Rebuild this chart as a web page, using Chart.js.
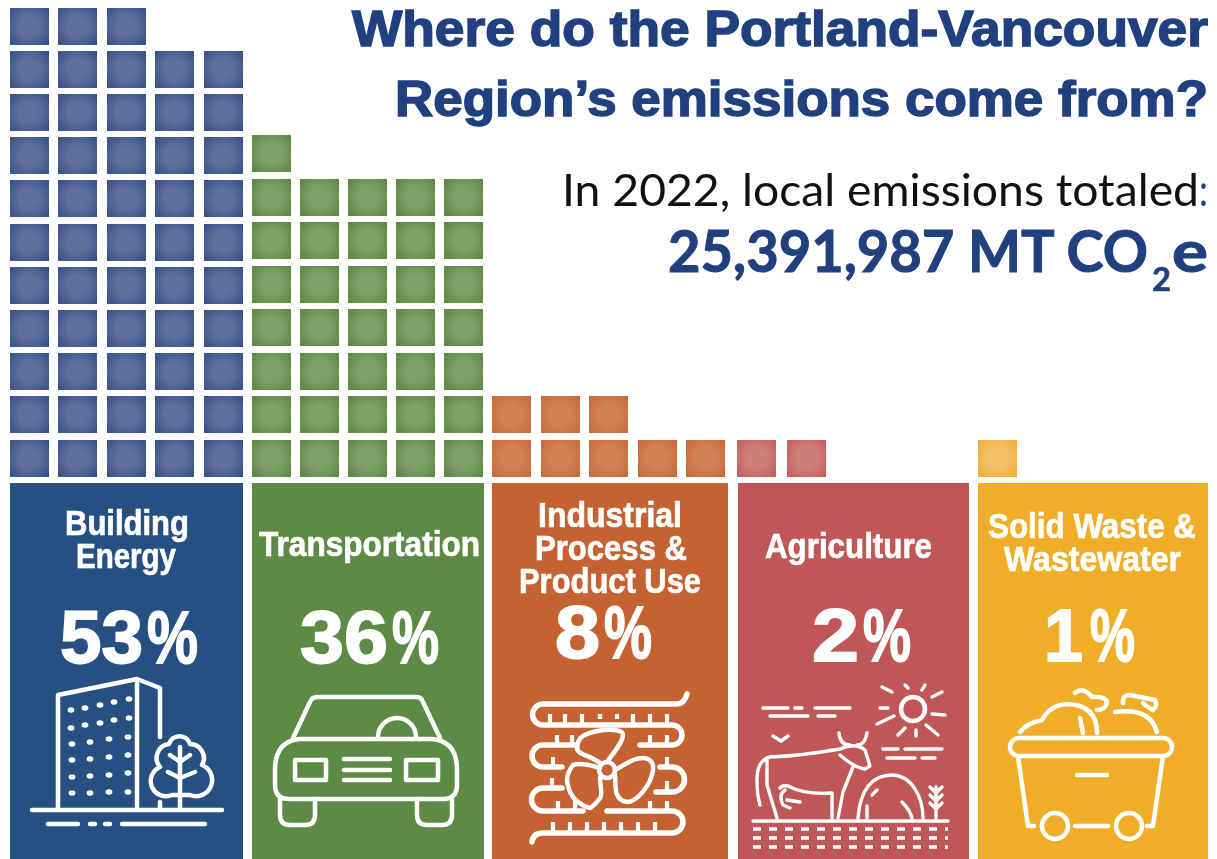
<!DOCTYPE html>
<html>
<head>
<meta charset="utf-8">
<title>Portland-Vancouver emissions</title>
<script src="https://cdn.jsdelivr.net/npm/chart.js"></script>
<style>
    html, body { margin: 0; padding: 0; background: #fff; }
    #wrap { position: relative; width: 1217px; height: 859px; overflow: hidden; }
    #grafico { position: absolute; left: 0; top: 0; }
    #camada { position: absolute; left: 0; top: 0; }
    .icon { fill: none; stroke: #fff; stroke-width: 4.5; stroke-linecap: round; stroke-linejoin: round; }
    .icon .thin { stroke-width: 3.4; }
    .icon .coil { stroke-width: 5.5; }
    .icon .tooth { stroke-width: 4.2; stroke-linecap: butt; }
    .icon .dot { fill: #fff; stroke: none; }
</style>
</head>
<body>
<div id="wrap">
    <canvas id="grafico" width="1217" height="859"></canvas>
    <svg id="camada" width="1217" height="859" xmlns="http://www.w3.org/2000/svg"></svg>
</div>
<script>
    // Data
    var sectors = ['Building Energy', 'Transportation', 'Industrial Process & Product Use', 'Agriculture', 'Solid Waste & Wastewater'];
    var percents = [53, 36, 8, 2, 1];
    var buildingColumns = [11, 11, 11, 10, 10];
    var transportColumns = [8, 7, 7, 7, 7];
    var industrialColumns = [2, 2, 2, 1, 1];
    var agricultureColumns = [1, 1];
    var wasteColumns = [1];
    // first grid column of each sector and the step between its columns
    var firstColumns = [0, 5, 9.95, 15, 19.97];
    var columnSteps = [1, 0.99, 1, 1.03, 1];

    var title = ['Where do the Portland-Vancouver', 'Region\u2019s emissions come from?'];
    var subtitle = 'In 2022, local emissions totaled';
    var total = '25,391,987 MT CO';

    // Styles
    var panelColors = ['#265082', '#5d8a45', '#c46231', '#c05757', '#f0ae28'];
    var squareEdge = ['#38528a', '#5c8a45', '#cb6b38', '#c66060', '#f0ae38'];
    var squareCenter = ['#60709c', '#7f9f68', '#d18156', '#cd8077', '#f4c066'];
    var NAVY = '#21407f';

    function criarQuadrado(edge, center) {
        var c = document.createElement('canvas');
        c.width = 39;
        c.height = 37;
        var ctx = c.getContext('2d');
        var g = ctx.createRadialGradient(19.5, 18.5, 2, 19.5, 18.5, 25);
        g.addColorStop(0, center);
        g.addColorStop(0.35, center);
        g.addColorStop(1, edge);
        ctx.fillStyle = g;
        ctx.fillRect(0, 0, 39, 37);
        return c;
    }

    function criarPontos(columns, first, step) {
        var pontos = [];
        columns.forEach(function(h, i) {
            for (var r = 0; r < h; r++) {
                pontos.push({ x: first + i * step, y: r });
            }
        });
        return pontos;
    }

    var allColumns = [buildingColumns, transportColumns, industrialColumns, agricultureColumns, wasteColumns];

    var datasets = allColumns.map(function(columns, i) {
        return {
            label: sectors[i],
            data: criarPontos(columns, firstColumns[i], columnSteps[i]),
            yAxisID: i === 1 ? 'yGreen' : 'y',
            pointStyle: criarQuadrado(squareEdge[i], squareCenter[i]),
            pointRadius: 19,
            showLine: false
        };
    });

    // column 0 sits at x=29, pitch 48.5; row 0 sits at y=458
    new Chart(document.getElementById('grafico').getContext('2d'), {
        type: 'scatter',
        data: { datasets: datasets },
        options: {
            responsive: false,
            animation: false,
            events: [],
            layout: { padding: 0, autoPadding: false },
            plugins: { legend: { display: false }, tooltip: { enabled: false } },
            scales: {
                x: { type: 'linear', display: false, min: -29 / 48.5, max: (1217 - 29) / 48.5 },
                y: { type: 'linear', display: false, min: (458 - 859) / 43.2, max: 458 / 43.2 },
                yGreen: { type: 'linear', display: false, min: (458 - 859) / 43.5, max: 458 / 43.5 }
            }
        }
    });

    // Overlay: panels, text and icons
    var svg = document.getElementById('camada');
    var NS = 'http://www.w3.org/2000/svg';

    function texto(str, x, y, width, size, weight, color, family, heavy) {
        var t = document.createElementNS(NS, 'text');
        t.setAttribute('x', x);
        t.setAttribute('y', y);
        t.setAttribute('font-size', size);
        t.setAttribute('font-weight', weight);
        t.setAttribute('font-family', family);
        t.setAttribute('fill', color);
        if (heavy) {
            t.setAttribute('stroke', color);
            t.setAttribute('stroke-width', heavy);
        }
        if (width) {
            t.setAttribute('textLength', width);
            t.setAttribute('lengthAdjust', 'spacingAndGlyphs');
        }
        t.textContent = str;
        svg.appendChild(t);
        return t;
    }

    var panelBoxes = [[10, 233], [252, 232], [492, 236], [738, 231], [978, 230]];
    panelBoxes.forEach(function(b, i) {
        var r = document.createElementNS(NS, 'rect');
        r.setAttribute('x', b[0]);
        r.setAttribute('y', 483);
        r.setAttribute('width', b[1]);
        r.setAttribute('height', 376);
        r.setAttribute('fill', panelColors[i]);
        svg.appendChild(r);
    });

    var SANS = '"Liberation Sans", Arial, sans-serif';
    var LATO = 'Lato, "Open Sans", sans-serif';

    texto(title[0], 352, 46, 856, 50, 700, NAVY, SANS, 1.5);
    texto(title[1], 395, 116, 813, 50, 700, NAVY, SANS, 1.5);
    texto(subtitle, 562, 206, 637, 45, 400, '#111', LATO);
    texto(':', 1199, 206, 9, 45, 400, NAVY, LATO);
    texto(total, 668, 272, 480, 58, 700, NAVY, LATO, 1);
    texto('2', 1152, 291, 19, 32, 700, NAVY, LATO, 0.6);
    texto('e', 1172, 272, 36, 58, 700, NAVY, LATO, 1);

    // [text, left, baseline, width] for each label line
    var labelLines = [
        ['Building', 65, 535, 124], ['Energy', 76, 568, 100],
        ['Transportation', 259, 556, 221],
        ['Industrial', 538, 527, 144], ['Process &', 535, 560, 152], ['Product Use', 519, 593, 182],
        ['Agriculture', 765, 558, 167],
        ['Solid Waste &', 988, 538, 208], ['Wastewater', 1004, 571, 177]
    ];
    labelLines.forEach(function(l) {
        texto(l[0], l[1], l[2], l[3], 35, 700, '#fff', SANS, 0.7);
    });

    // digits left, digits width, percent-sign left, percent-sign width, baseline
    var percentBoxes = [
        [60, 83, 147, 51, 663], [300, 88, 392, 47, 663], [555, 45, 604, 48, 658],
        [812, 47, 863, 48, 661], [1044, 39, 1090, 45, 661]
    ];
    percentBoxes.forEach(function(p, i) {
        var t = texto('', p[0], p[4], 0, 75, 700, '#fff', SANS, 1.8);
        var a = document.createElementNS(NS, 'tspan');
        a.setAttribute('x', p[0]);
        a.setAttribute('textLength', p[1]);
        a.setAttribute('lengthAdjust', 'spacingAndGlyphs');
        a.textContent = String(percents[i]);
        var b = document.createElementNS(NS, 'tspan');
        b.setAttribute('x', p[2]);
        b.setAttribute('textLength', p[3]);
        b.setAttribute('lengthAdjust', 'spacingAndGlyphs');
        b.textContent = '%';
        t.appendChild(a);
        t.appendChild(b);
    });

    function dots(rows) {
        var s = '';
        rows.forEach(function(d) {
            s += '<ellipse class="dot" cx="' + d[0] + '" cy="' + d[1] + '" rx="3.4" ry="2.7"/>';
        });
        return s;
    }

    var windows = [
        [71, 710], [85, 708], [100, 705], [114, 702], [129, 699],
        [71, 728], [85, 725], [100, 723], [114, 720], [129, 718],
        [72, 744], [90, 742], [109, 739], [128, 737],
        [72, 760], [90, 759], [109, 757], [128, 755],
        [72, 777], [90, 776], [109, 775], [128, 773],
        [72, 793], [90, 793], [109, 792], [128, 792]
    ];

    var icons = [
        // building and tree
        '<path d="M58 808V695L137 679L160 688V737M137 679V808M32 810H222M48 824H78M122 824H205M160 802V808"/>' +
        '<path d="M90 824H95M105 824H110"/>' + dots(windows) +
        '<path d="M180 747V808M170 755L180 762L190 755M168 772L180 778L195 772"/>' +
        '<path d="M172 795A15 15 0 0 1 160 767A14 14 0 0 1 169 744A11 11 0 0 1 190 744A14 14 0 0 1 202 765A15 15 0 0 1 190 795Z"/>',
        // car
        '<path d="M293 738L310 702Q312 697 317 697H417Q421 697 423 702L440 738"/>' +
        '<path d="M300 739H432Q457 741 457 770V785Q457 799 443 799H289Q275 799 275 785V770Q275 741 300 739Z"/>' +
        '<path d="M280 799V815Q280 825 290 825H305Q315 825 315 815V799M417 799V815Q417 825 427 825H442Q452 825 452 815V799"/>' +
        '<path d="M378 737A19 19 0 0 1 416 737"/>' +
        '<rect x="295" y="760" width="31" height="20"/><rect x="406" y="760" width="32" height="20"/>' +
        '<path d="M344 759H390M344 770H390M344 780H390"/>',
        // coil and fan
        '<path class="coil" d="M687 694Q684 704 677 704H543A10 10 0 0 0 543 725H672A10 10 0 0 1 672 745H640M577 745H543A11 11 0 0 0 543 767H562M660 767H672A12 12 0 0 1 672 792H656M562 788H543A11 11 0 0 0 543 811H583M607 811H672A11 11 0 0 1 672 833H543Q533 833 532 842"/>' +
        '<path class="tooth" d="M550 714V724M565 714V724M582 714V724M600 714V719M617 714V719M633 714V724M650 714V724M667 714V724"/>' +
        '<path class="tooth" d="M557 735V745M572 735V745M650 735V745M667 735V745"/>' +
        '<path class="tooth" d="M553 757V767M552 788V778M667 757V767M667 781V791M558 801V811M575 801V811M650 801V811M667 801V811"/>' +
        '<path class="tooth" d="M553 822V833M570 822V833M587 822V833M604 822V833M621 822V833M638 822V833M655 822V833"/>' +
        '<circle cx="607" cy="770" r="8"/>' +
        '<path d="M600 763C590 755 577 755 577 748C577 738 583 733 603 730C612 729 623 730 623 735C623 742 614 752 607 762"/>' +
        '<path d="M615 775C616 785 613 800 627 802C637 802 651 785 653 770C654 760 647 755 633 760C627 763 620 767 615 770"/>' +
        '<path d="M600 778C600 785 603 795 600 798C595 805 590 808 590 808C580 806 573 797 573 797C568 790 567 780 567 780C567 773 573 765 573 765C582 762 593 766 600 768"/>',
        // cow, sun, hay
        '<circle cx="913" cy="709" r="12"/>' +
        '<path class="thin" d="M892 692L882 687M908 688L905 685M922 690L925 685M932 697L942 692M932 714L945 715M926 725L938 735M916 730L916 736M905 728L898 735M894 716L877 724M880 708L888 708"/>' +
        '<path class="thin" d="M763 708H788M795 708H802M815 708H850M770 716H808M818 716H835M883 749H898M905 749H942M887 758H915M922 758H935M773 736L781 741L788 736"/>' +
        '<path class="thin" d="M840 749Q800 756 770 757Q757 760 757 780Q757 795 760 805M767 760V785L777 818M780 788Q782 785 788 786Q805 795 832 793V818M838 818L843 792L853 767M840 749Q855 742 865 750L870 766L865 769Q855 768 840 755"/>' +
        '<path class="thin" d="M839 733Q840 745 850 745M867 733Q865 745 857 745M785 790Q778 795 783 805L790 808M787 800L800 802"/>' +
        '<path class="thin" d="M858 818C860 790 872 775 892 775C910 775 923 795 923 818M867 818V806M872 795L877 790M902 802C910 810 912 818 912 818M936 818V787M930 787L936 793L942 787M930 795L936 801L942 795M930 803L936 809L942 803"/>' +
        '<path class="thin" d="M753 821H948"/>' +
        '<path class="thin" stroke-dasharray="8 8" stroke-linecap="butt" d="M753 829H948M753 838H948M753 847H948"/>',
        // bin
        '<rect x="1010" y="738" width="162" height="18" rx="9"/>' +
        '<path d="M1018 756L1028 826H1034M1163 756L1153 826H1147M1077 775H1107M1075 826H1108"/>' +
        '<circle cx="1055" cy="826" r="13"/><circle cx="1129" cy="826" r="13"/>' +
        '<path d="M1020 732Q1027 723 1042 720Q1050 705 1067 704Q1097 705 1097 733M1080 718L1083 733"/>' +
        '<path d="M1075 693Q1083 686 1092 697Q1107 696 1107 703Q1105 710 1097 710"/>' +
        '<path d="M1115 712Q1150 707 1157 732M1123 703Q1122 695 1130 695Q1145 698 1155 700Q1158 706 1153 710Q1146 706 1143 703"/>'
    ];
    icons.forEach(function(markup) {
        var g = document.createElementNS(NS, 'g');
        g.setAttribute('class', 'icon');
        g.innerHTML = markup;
        svg.appendChild(g);
    });
</script>
</body>
</html>
